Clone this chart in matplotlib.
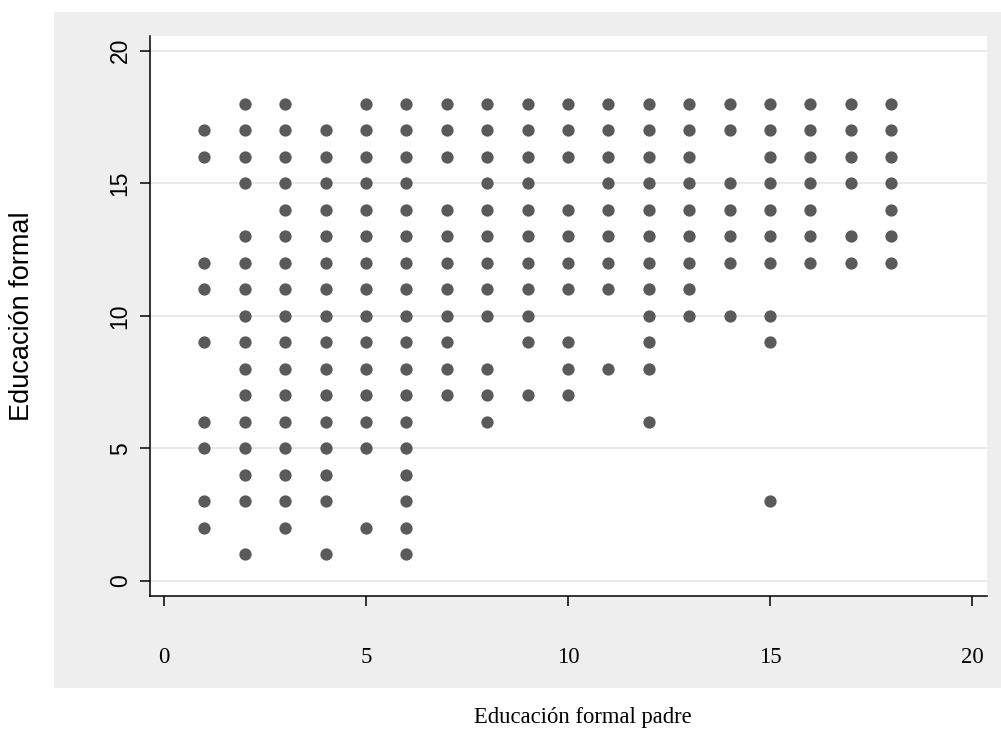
import numpy as np
import matplotlib
matplotlib.use('Agg')
import matplotlib.pyplot as plt
from matplotlib.patches import Rectangle

# father's education (x) -> list of observed own education values (y)
x_padre = [1, 2, 3, 4, 5, 6, 7, 8, 9, 10, 11, 12, 13, 14, 15, 16, 17, 18]
y_col_1 = [17, 16, 12, 11, 9, 6, 5, 3, 2]
y_col_2 = [18, 17, 16, 15, 13, 12, 11, 10, 9, 8, 7, 6, 5, 4, 3, 1]
y_col_3 = [18, 17, 16, 15, 14, 13, 12, 11, 10, 9, 8, 7, 6, 5, 4, 3, 2]
y_col_4 = [17, 16, 15, 14, 13, 12, 11, 10, 9, 8, 7, 6, 5, 4, 3, 1]
y_col_5 = [18, 17, 16, 15, 14, 13, 12, 11, 10, 9, 8, 7, 6, 5, 2]
y_col_6 = [18, 17, 16, 15, 14, 13, 12, 11, 10, 9, 8, 7, 6, 5, 4, 3, 2, 1]
y_col_7 = [18, 17, 16, 14, 13, 12, 11, 10, 9, 8, 7]
y_col_8 = [18, 17, 16, 15, 14, 13, 12, 11, 10, 8, 7, 6]
y_col_9 = [18, 17, 16, 15, 14, 13, 12, 11, 10, 9, 7]
y_col_10 = [18, 17, 16, 14, 13, 12, 11, 9, 8, 7]
y_col_11 = [18, 17, 16, 15, 14, 13, 12, 11, 8]
y_col_12 = [18, 17, 16, 15, 14, 13, 12, 11, 10, 9, 8, 6]
y_col_13 = [18, 17, 16, 15, 14, 13, 12, 11, 10]
y_col_14 = [18, 17, 15, 14, 13, 12, 10]
y_col_15 = [18, 17, 16, 15, 14, 13, 12, 10, 9, 3]
y_col_16 = [18, 17, 16, 15, 14, 13, 12]
y_col_17 = [18, 17, 16, 15, 13, 12]
y_col_18 = [18, 17, 16, 15, 14, 13, 12]
y_cols = [y_col_1, y_col_2, y_col_3, y_col_4, y_col_5, y_col_6, y_col_7,
          y_col_8, y_col_9, y_col_10, y_col_11, y_col_12, y_col_13,
          y_col_14, y_col_15, y_col_16, y_col_17, y_col_18]

tick_vals = [0, 5, 10, 15, 20]

xs = np.concatenate([[xv] * len(yc) for xv, yc in zip(x_padre, y_cols)])
ys = np.concatenate(y_cols)

W, H = 1001, 731
fig = plt.figure(figsize=(W / 100, H / 100), dpi=100)
fig.patch.set_facecolor('white')

# gray outer panel (Stata style), behind the axes
fig.add_artist(Rectangle((54 / W, 1 - 688 / H), (W - 54) / W, (688 - 12) / H,
                         transform=fig.transFigure, facecolor='#eeeeee',
                         edgecolor='none', zorder=-5))

ax = fig.add_axes([150 / W, 1 - 596 / H, (987 - 150) / W, (596 - 36) / H])
ax.set_facecolor('white')
ax.scatter(xs, ys, s=78, color='#5a5a5a', linewidths=0, zorder=3)

ax.set_xlim(-0.347, 20.37)
ax.set_ylim(-0.566, 20.55)
ax.set_xticks(tick_vals)
ax.set_yticks(tick_vals)
ax.set_xticklabels([str(v) for v in tick_vals], family='Liberation Serif', fontsize=16.5)
ax.set_yticklabels([str(v) for v in tick_vals], family='Liberation Sans', fontsize=16.5,
                   rotation=90, va='center')
ax.tick_params(axis='x', length=7.2, width=1.1, pad=29.5)
ax.tick_params(axis='y', length=7.2, width=1.1, pad=6)
ax.grid(axis='y', color='#e6e6e6', linewidth=1.2, zorder=0)
ax.set_axisbelow(True)
for side in ['top', 'right']:
    ax.spines[side].set_visible(False)
for side in ['left', 'bottom']:
    ax.spines[side].set_linewidth(1.1)

fig.text(22 / W, 1 - 316 / H, 'Educación formal', rotation=90, ha='center', va='center',
         family='Liberation Sans', fontsize=19.5)
fig.text(583 / W, 1 - 718 / H, 'Educación formal padre', ha='center', va='center',
         family='Liberation Serif', fontsize=16.3)

fig.savefig('out.png', dpi=100)
